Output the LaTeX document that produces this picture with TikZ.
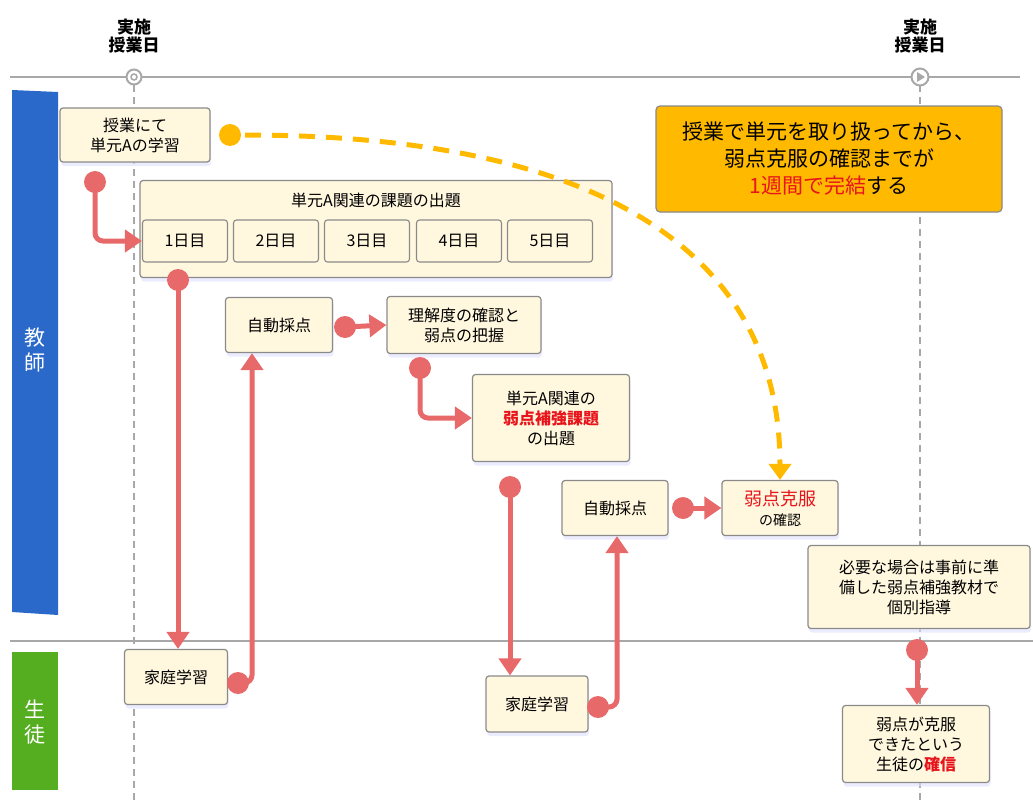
\documentclass[tikz,border=0pt]{standalone}
\usepackage{fontspec}
\setmainfont{Noto Sans CJK JP}
\usetikzlibrary{arrows.meta,shadows}
\definecolor{cream}{HTML}{FFF7DE}
\definecolor{boxline}{HTML}{8A8A8A}
\definecolor{conred}{HTML}{E8696A}
\definecolor{laneblue}{HTML}{2A68C9}
\definecolor{lanegreen}{HTML}{55AE1F}
\definecolor{callout}{HTML}{FFBA00}
\definecolor{timegray}{HTML}{A8A8A8}
\definecolor{hired}{HTML}{E8141B}
\tikzset{
  card/.style={draw=boxline, line width=1.2pt, fill=cream, rounded corners=3pt,
    align=center, inner sep=2pt, font=\fontsize{16}{20}\selectfont,
    drop shadow={fill=blue!12, shadow xshift=1pt, shadow yshift=-4pt, opacity=0.6}},
  daybox/.style={draw=boxline, line width=1.1pt, fill=cream, rounded corners=3pt,
    minimum width=85pt, minimum height=42pt, font=\fontsize{16}{20}\selectfont},
  redline/.style={draw=conred, line width=5pt, rounded corners=8pt,
    -{Triangle[length=17pt,width=22pt]}},
  reddot/.style={fill=conred},
  timeline/.style={draw=timegray, line width=2pt},
  lanesep/.style={draw=timegray, line width=2pt},
  guide/.style={draw=timegray, line width=1.6pt, dash pattern=on 7pt off 5pt},
  lanelabel/.style={text=white, align=center, font=\fontsize{21}{25}\selectfont},
  toplabel/.style={align=center, font=\fontsize{17}{18}\selectfont\bfseries},
}
\begin{document}
\begin{tikzpicture}[x=1pt,y=-1pt]
\useasboundingbox (0,0) rectangle (1033,800);

% timeline and guides
\draw[guide] (134,85) -- (134,800);
\draw[guide] (920,85) -- (920,800);
\draw[timeline] (10,77) -- (1020,77);
\draw[lanesep] (10,641) -- (1033,641);
\node[circle, draw=timegray, line width=2pt, fill=white, minimum size=15pt, inner sep=0pt] (m1) at (134,77) {};
\node[circle, draw=timegray, line width=1.5pt, minimum size=6pt, inner sep=0pt] (m1in) at (134,77) {};
\node[circle, draw=timegray, line width=2pt, fill=white, minimum size=17pt, inner sep=0pt] (m2) at (920,77) {};
\fill[timegray] (917,72) -- (925,77) -- (917,82) -- cycle;
\node[toplabel] (t1) at (134,36) {実施\\授業日};
\node[toplabel] (t2) at (920,36) {実施\\授業日};

% lanes
\fill[laneblue] (12,90) -- (58,92) -- (58,615) -- (12,612) -- cycle;
\node[lanelabel] (teacher) at (35,350) {教\\師};
\fill[lanegreen] (12,652) rectangle (58,790);
\node[lanelabel] (student) at (35,722) {生\\徒};

% callout
\node[draw=boxline, line width=1.2pt, fill=callout, rounded corners=4pt,
  minimum width=346pt, minimum height=106pt, align=center,
  font=\fontsize{21}{27}\selectfont] (call) at (829,159)
  {授業で単元を取り扱ってから、\\弱点克服の確認までが\\{\color{hired}1週間で完結}する};

% boxes
\node[card, minimum width=150pt, minimum height=54pt] (learn) at (135,135) {授業にて\\単元Aの学習};
\node[card, minimum width=472pt, minimum height=97pt] (task) at (376,229) {};
\node[font=\fontsize{16}{20}\selectfont] (tasktitle) at (376,200) {単元A関連の課題の出題};
\node[daybox] (d1) at (185,241) {1日目};
\node[daybox] (d2) at (276,241) {2日目};
\node[daybox] (d3) at (367,241) {3日目};
\node[daybox] (d4) at (459,241) {4日目};
\node[daybox] (d5) at (550,241) {5日目};

\node[card, minimum width=107pt, minimum height=55pt] (auto1) at (279,325) {自動採点};
\node[card, minimum width=154pt, minimum height=57pt] (under) at (464,325) {理解度の確認と\\弱点の把握};
\node[card, minimum width=157pt, minimum height=87pt] (weak) at (551,418)
  {単元A関連の\\{\color{hired}\bfseries 弱点補強課題}\\の出題};
\node[card, minimum width=106pt, minimum height=55pt] (auto2) at (615,508) {自動採点};
\node[card, minimum width=116pt, minimum height=55pt] (check) at (780,508)
  {{\color{hired}\fontsize{18}{21}\selectfont 弱点克服}\\{\fontsize{14}{17}\selectfont の確認}};
\node[card, minimum width=222pt, minimum height=83pt] (indiv) at (919,587)
  {必要な場合は事前に準\\備した弱点補強教材で\\個別指導};
\node[card, minimum width=103pt, minimum height=55pt] (home1) at (176,677) {家庭学習};
\node[card, minimum width=102pt, minimum height=56pt] (home2) at (537,704) {家庭学習};
\node[card, minimum width=147pt, minimum height=77pt] (conv) at (916,744)
  {弱点が克服\\できたという\\生徒の{\color{hired}\bfseries 確信}};

% orange dashed connector
\coordinate (od) at (230,135);
\fill[callout] (od) circle (11pt);
\draw[draw=callout, line width=5pt, dash pattern=on 16pt off 11pt,
  -{Triangle[length=16pt,width=22pt]}]
  (245,135) .. controls (580,135) and (780,240) .. (check.north);

% red connectors
\coordinate (r1) at (95,182);
\fill[reddot] (r1) circle (11pt);
\draw[redline] (r1) |- (d1.west);

\coordinate (r2) at (178,280);
\fill[reddot] (r2) circle (11pt);
\draw[redline] (r2) -- (home1.north -| r2);

\coordinate (r3) at (238,683);
\fill[reddot] (r3) circle (11pt);
\draw[redline] (r3) -| (auto1.south -| 252,0);

\coordinate (r4) at (345,327);
\fill[reddot] (r4) circle (11pt);
\draw[redline] (r4) -- (under.west);

\coordinate (r5) at (420,368);
\fill[reddot] (r5) circle (11pt);
\draw[redline] (r5) |- (weak.west);

\coordinate (r6) at (510,487);
\fill[reddot] (r6) circle (11pt);
\draw[redline] (r6) -- (home2.north -| r6);

\coordinate (r7) at (598,707);
\fill[reddot] (r7) circle (11pt);
\draw[redline] (r7) -| (auto2.south -| 617,0);

\coordinate (r8) at (683,508);
\fill[reddot] (r8) circle (11pt);
\draw[redline] (r8) -- (check.west);

\coordinate (r9) at (917,650);
\fill[reddot] (r9) circle (11pt);
\draw[redline] (r9) -- (conv.north -| r9);
\end{tikzpicture}
\end{document}
